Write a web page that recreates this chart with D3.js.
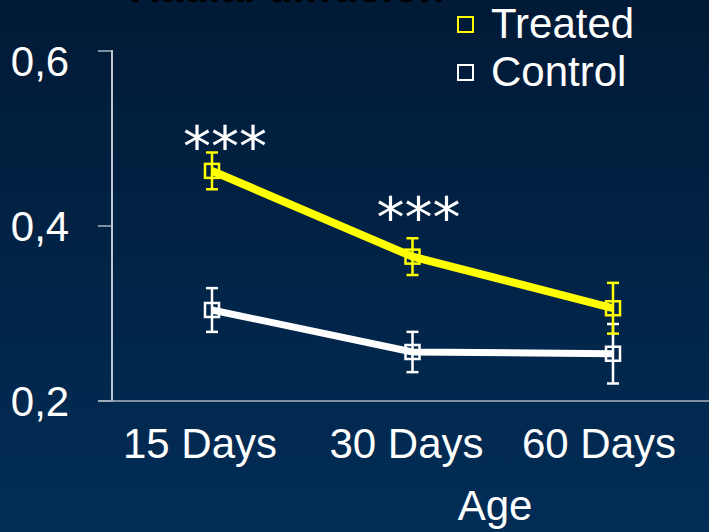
<!DOCTYPE html>
<html><head><meta charset="utf-8">
<script src="https://cdn.jsdelivr.net/npm/d3@7"></script>
<style>html,body{margin:0;padding:0;background:#011a36;overflow:hidden}</style>
</head><body>
<svg id="c" width="709" height="532"></svg>
<script>
const categories = ["15 Days", "30 Days", "60 Days"];
const treated = [0.463, 0.365, 0.306];
const treatedErr = [0.021, 0.021, 0.029];
const control = [0.304, 0.256, 0.254];
const controlErr = [0.025, 0.023, 0.034];
const yTicks = [0.2, 0.4, 0.6];
const yTickLabels = ["0,2", "0,4", "0,6"];
const sigLabels = ["***", "***", ""];
const sigLevels = [0.504, 0.423, null];
const seriesNames = ["Treated", "Control"];
const seriesColors = ["#ffff00", "#ffffff"];

const svg = d3.select("#c");
const defs = svg.append("defs");
const g = defs.append("linearGradient").attr("id","bg").attr("x1",0).attr("y1",0).attr("x2",0).attr("y2",1);
g.append("stop").attr("offset","0%").attr("stop-color","#011a36");
g.append("stop").attr("offset","100%").attr("stop-color","#022d57");
svg.append("rect").attr("width",709).attr("height",532).attr("fill","url(#bg)");

const font = "Liberation Sans, Arial, sans-serif";
const x = d3.scalePoint().domain(categories).range([212, 613]);
const y = d3.scaleLinear().domain([0.2, 0.6]).range([401, 51]);

// title (cut off at top in the reference)
svg.append("text").attr("x", 287).attr("y", 2).attr("text-anchor","middle")
  .attr("font-family", font).attr("font-weight","bold").attr("font-size", 42).attr("fill","#000")
  .text("Radial diffusion");

// axes
svg.append("line").attr("x1",112).attr("x2",112).attr("y1",y(0.6)-1).attr("y2",y(0.2)).attr("stroke","#ffffff").attr("stroke-width",1.5);
svg.append("line").attr("x1",98).attr("x2",709).attr("y1",y(0.2)).attr("y2",y(0.2)).attr("stroke","#a9b4c4").attr("stroke-width",1.5);
yTicks.forEach((t,i)=>{
  svg.append("line").attr("x1",98).attr("x2",111).attr("y1",y(t)).attr("y2",y(t)).attr("stroke","#a9b4c4").attr("stroke-width",1.5);
  svg.append("text").attr("x",40).attr("y",y(t)+15 + (i===2 ? 10 : 0)).attr("text-anchor","middle")
    .attr("font-family",font).attr("font-size",42).attr("fill","#fff")
    .text(yTickLabels[i]);
});
categories.forEach((c,i)=>{
  svg.append("text").attr("x", x(c) - [12,6,14][i]).attr("y", 458).attr("text-anchor","middle")
    .attr("font-family",font).attr("font-size",42).attr("fill","#fff").text(c);
});
svg.append("text").attr("x",495).attr("y",520).attr("text-anchor","middle")
  .attr("font-family",font).attr("font-size",42).attr("fill","#fff").text("Age");

function drawSeries(vals, errs, color, lw) {
  const line = d3.line().x((d,i)=>x(categories[i])).y(d=>y(d));
  svg.append("path").datum(vals).attr("d", line).attr("fill","none")
    .attr("stroke", color).attr("stroke-width", lw).attr("stroke-linejoin","round");
  vals.forEach((v,i)=>{
    const cx = x(categories[i]);
    const e = errs[i];
    svg.append("line").attr("x1",cx).attr("x2",cx).attr("y1",y(v+e)).attr("y2",y(v-e)).attr("stroke",color).attr("stroke-width",2.5);
    [v+e, v-e].forEach(b=>{
      svg.append("line").attr("x1",cx-6).attr("x2",cx+6).attr("y1",y(b)).attr("y2",y(b)).attr("stroke",color).attr("stroke-width",2.5);
    });
  });
  vals.forEach((v,i)=>{
    const cx = x(categories[i]);
    svg.append("rect").attr("x",cx-7).attr("y",y(v)-7).attr("width",14).attr("height",14)
      .attr("fill","none").attr("stroke",color).attr("stroke-width",2.5);
  });
}
drawSeries(control, controlErr, seriesColors[1], 7);
drawSeries(treated, treatedErr, seriesColors[0], 8);

// significance
sigLabels.forEach((s,i)=>{
  if(!s) return;
  svg.append("text").attr("x", x(categories[i]) + [13,6,0][i]).attr("y", y(sigLevels[i]) + 31).attr("text-anchor","middle")
    .attr("font-family","DejaVu Sans, sans-serif").attr("font-size",56).attr("fill","#fff")
    .text(s);
});

// legend
seriesNames.forEach((n,i)=>{
  const ly = 25 + i*48;
  svg.append("rect").attr("x",458).attr("y",ly-8).attr("width",15).attr("height",15)
    .attr("fill","none").attr("stroke",seriesColors[i]).attr("stroke-width",2);
  svg.append("text").attr("x",491).attr("y",ly+13).attr("font-family",font).attr("font-size",42)
    .attr("fill","#fff").text(n);
});
</script>
</body></html>
